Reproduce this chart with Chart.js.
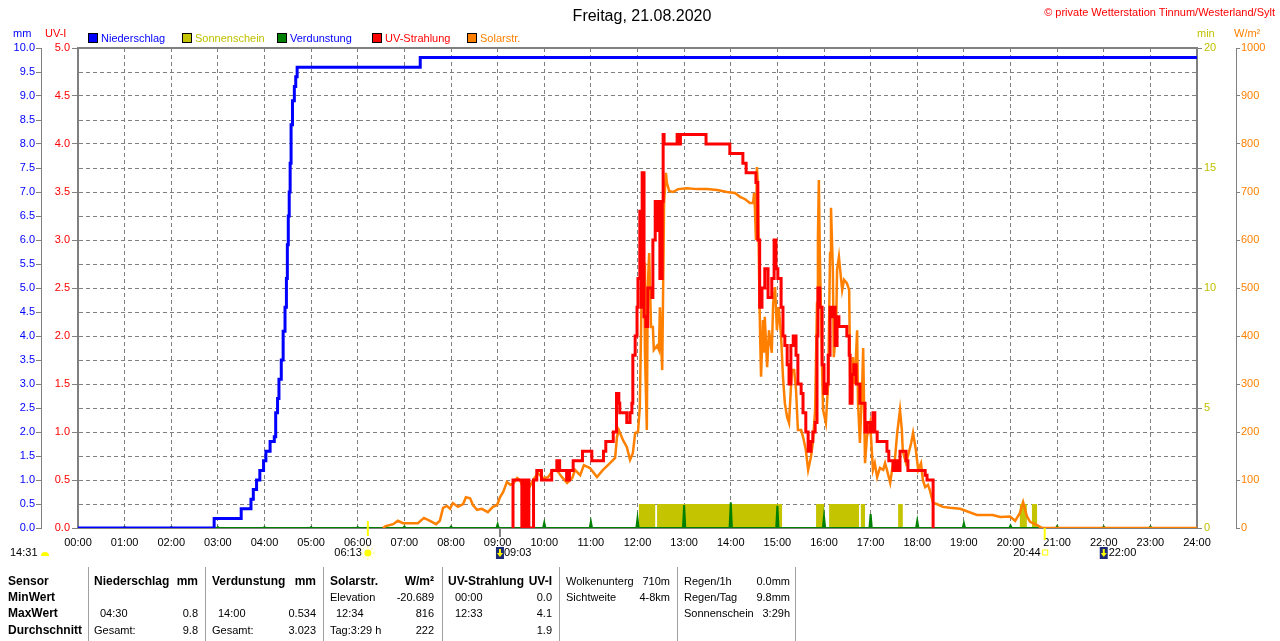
<!DOCTYPE html>
<html lang="de">
<head>
<meta charset="utf-8">
<title>Freitag, 21.08.2020</title>
<script src="https://cdn.jsdelivr.net/npm/chart.js@4.4.1/dist/chart.umd.min.js"></script>
<style>
  html, body { margin: 0; padding: 0; background: #fff; }
  #wrap { position: relative; width: 1280px; height: 641px; overflow: hidden;
          font-family: "Liberation Sans", Arial, sans-serif; font-size: 11px; color: #000; }
  #chart { position: absolute; left: 0; top: 0; }
  .t { position: absolute; white-space: nowrap; line-height: 14px; }
  .sep { position: absolute; top: 567px; width: 1px; height: 74px; background: #a0a0a0; }
  .sq { position: absolute; width: 8px; height: 8px; border: 1px solid #000; }
</style>
</head>
<body>
<div id="wrap"><canvas id="chart" width="1280" height="641"></canvas></div>
<script>
// time axis (hours) and tick labels
var hourLabels = ['00:00','01:00','02:00','03:00','04:00','05:00','06:00','07:00','08:00',
  '09:00','10:00','11:00','12:00','13:00','14:00','15:00','16:00','17:00','18:00',
  '19:00','20:00','21:00','22:00','23:00','24:00'];

// Niederschlag, cumulative mm (step changes)
var rainT  = [0, 2.92, 3.50, 3.71, 3.76, 3.83, 3.90, 3.98, 4.03, 4.12, 4.21, 4.24, 4.28, 4.31, 4.36,
              4.40, 4.44, 4.47, 4.49, 4.51, 4.53, 4.55, 4.57, 4.60, 4.64, 4.67, 4.70, 7.34, 24];
var rainMm = [0, 0.2, 0.4, 0.6, 0.8, 1.0, 1.2, 1.4, 1.6, 1.8, 1.9, 2.4, 2.7, 3.1, 3.5,
              4.1, 4.6, 5.2, 5.9, 6.5, 7.0, 7.6, 8.4, 8.9, 9.2, 9.4, 9.6, 9.8, 9.8];

// Sonnenschein, min
var sunT   = [0, 12.03, 12.38, 12.42, 15.10, 15.83, 16.00, 16.11, 16.75, 16.79, 16.88, 17.59, 17.69,
              20.20, 20.35, 20.46, 20.57, 24];
var sunMin = [0, 1, 0, 1, 0, 1, 0, 1, 0, 1, 0, 1, 0, 1, 0, 1, 0, 0];

// Verdunstung, mm per hour
var evapH  = [0,1,2,3,4,5,6,7,8,9,10,11,12,13,14,15,16,17,18,19,20,21,22,23,24];
var evapMm = [0,0.02,0.02,0.02,0.02,0.02,0.02,0.03,0.03,0.08,0.11,0.13,0.2,0.48,0.534,
              0.46,0.24,0.29,0.15,0.1,0.05,0.04,0.03,0.03,0];

// UV-Strahlung, UV-I
var uvT = [9.33,9.33,9.52,9.54,9.59,9.63,9.67,9.77,9.84,9.94,
  10.16,10.27,10.33,10.48,10.54,10.62,10.82,11.02,11.27,11.32,
  11.48,11.55,11.60,11.62,11.77,11.84,11.88,11.90,11.95,11.99,
  12.01,12.05,12.08,12.10,12.14,12.18,12.22,12.31,12.33,12.38,
  12.42,12.44,12.48,12.53,12.55,12.57,12.85,12.88,12.92,13.47,
  13.98,14.26,14.33,14.54,14.58,14.62,14.67,14.73,14.80,14.88,
  14.93,14.97,15.01,15.08,15.12,15.16,15.21,15.25,15.29,15.34,
  15.40,15.44,15.51,15.55,15.61,15.66,15.72,15.76,15.81,15.85,
  15.87,15.91,15.96,16.00,16.06,16.09,16.13,16.17,16.19,16.24,
  16.28,16.32,16.49,16.54,16.56,16.60,16.64,16.69,16.77,16.88,
  16.92,16.99,17.05,17.09,17.14,17.35,17.39,17.48,17.54,17.59,
  17.63,17.76,17.80,18.17,18.21,18.34];
var uvI = [0,0.5,0,0.5,0,0.5,0,0.5,0.6,0.5,
  0.6,0.7,0.6,0.5,0.6,0.7,0.8,0.7,0.8,0.9,
  1.0,1.4,1.3,1.2,1.1,1.2,1.3,1.8,2.0,2.3,
  2.6,3.3,2.3,3.7,2.2,2.1,2.5,2.4,3.0,3.4,
  3.1,3.4,2.6,3.4,4.1,4.0,4.1,4.0,4.1,4.0,
  3.9,3.8,3.7,3.6,3.0,2.3,2.5,2.7,2.4,2.6,
  3.0,2.7,2.6,2.3,2.0,1.9,1.7,1.5,1.9,2.0,
  1.8,1.5,1.4,1.2,1.0,0.8,0.9,1.0,1.1,2.0,
  2.5,2.3,1.7,1.4,1.5,1.8,2.3,2.2,2.3,1.9,
  2.2,2.1,2.0,1.8,1.3,1.6,1.7,1.5,1.3,1.0,
  1.1,1.0,1.2,1.0,0.9,0.8,0.7,0.6,0.7,0.6,
  0.8,0.7,0.6,0.55,0.5,0];

// Solarstrahlung, W/m²
var solarT = [6.54,6.60,6.76,6.86,6.97,7.12,7.29,7.42,7.55,7.68,7.76,7.83,7.91,7.98,8.04,
  8.15,8.26,8.32,8.41,8.47,8.56,8.66,8.79,8.90,8.99,9.05,9.12,9.20,9.27,9.33,
  9.42,9.48,9.54,9.65,9.76,9.87,9.97,10.08,10.19,10.29,10.38,10.49,10.60,10.66,10.77,
  10.85,10.98,11.13,11.26,11.41,11.52,11.56,11.60,11.69,11.77,11.84,11.90,11.95,12.01,
  12.05,12.10,12.12,12.14,12.16,12.20,12.22,12.25,12.29,12.33,
  12.35,12.42,12.46,12.48,12.53,12.55,12.57,12.61,12.63,12.68,
  12.76,12.87,13.06,13.28,13.49,13.71,13.92,14.09,14.20,14.31,
  14.41,14.48,14.50,14.52,14.54,14.56,14.58,14.61,14.63,14.65,
  14.69,14.71,14.73,14.78,14.82,14.88,14.91,14.95,14.99,15.03,
  15.08,15.12,15.16,15.21,15.25,15.31,15.36,15.40,15.44,
  15.51,15.55,15.61,15.66,15.72,15.76,15.81,15.85,15.87,15.89,
  15.91,15.96,15.98,16.04,16.09,16.13,16.15,16.19,16.21,16.26,
  16.28,16.32,16.34,16.39,16.43,16.49,16.54,16.56,16.60,16.62,
  16.66,16.71,16.73,16.77,16.82,16.84,16.88,16.92,16.99,17.05,
  17.09,17.14,17.20,17.27,17.31,17.35,17.42,17.48,17.52,17.57,
  17.63,17.67,17.69,17.76,17.80,17.87,17.91,17.97,18.02,18.08,
  18.12,18.17,18.23,18.27,18.34,
  18.42,18.55,18.70,18.92,19.28,19.62,19.78,19.99,20.10,20.20,
  20.27,20.35,20.42,20.57,20.68,24];
var solarW = [0,4,8,15,10,10,10,21,15,8,15,42,46,40,52,
  44,50,64,62,48,38,40,33,44,48,64,75,96,90,92,
  104,100,85,79,100,114,104,106,121,118,106,94,104,121,110,
  131,125,106,121,135,146,190,204,183,169,142,156,198,200,
  252,558,460,552,365,204,502,573,419,419,
  371,380,371,460,329,502,677,740,719,702,
  700,706,708,706,706,704,700,698,690,685,
  677,677,698,662,600,752,720,517,398,315,
  433,365,440,335,412,365,469,502,412,460,
  398,315,260,231,219,329,329,288,204,
  204,190,163,121,148,177,246,469,606,725,
  573,329,246,219,302,573,667,538,356,412,
  538,565,544,496,517,510,496,315,260,356,
  300,412,260,177,300,375,135,190,219,121,
  135,106,125,121,135,121,94,135,142,198,
  246,204,160,135,150,177,198,163,121,135,
  100,85,90,79,52,
  50,44,42,40,27,27,23,24,15,31,
  54,25,13,6,0,0];

// sun / moon times
var sunRise = 6 + 13 / 60, sunSet = 20 + 44 / 60, moonRise = 9 + 3 / 60, moonSet = 22;

function pts(t, v) {
  var out = [];
  for (var i = 0; i < Math.min(t.length, v.length); i++) out.push({x: t[i], y: v[i]});
  return out;
}
var evapPts = [];
for (var i = 0; i < evapH.length; i++) {
  evapPts.push({x: evapH[i] - 0.025, y: 0});
  evapPts.push({x: evapH[i], y: evapMm[i]});
  evapPts.push({x: evapH[i] + 0.025, y: 0});
}

var GRID = '#808080';
var F = '"Liberation Sans", Arial, sans-serif';

function fixW(w) { return function (s) { s.width = w; }; }

var framePlugin = {
  id: 'frame',
  beforeDatasetsDraw: function (chart) {
    var ctx = chart.ctx, a = chart.chartArea;
    ctx.save();
    ctx.strokeStyle = GRID;
    ctx.lineWidth = 2;
    ctx.strokeRect(a.left, a.top, a.right - a.left, a.bottom - a.top);
    ctx.restore();
  },
  afterDraw: function (chart) {
    var ctx = chart.ctx, x = chart.scales.x, b = chart.chartArea.bottom;
    var xr = x.getPixelForValue(sunRise), xs = x.getPixelForValue(sunSet);
    var xm = x.getPixelForValue(moonRise), xm2 = x.getPixelForValue(moonSet);
    ctx.save();
    ctx.lineWidth = 2;
    ctx.strokeStyle = '#ffff00';
    ctx.beginPath(); ctx.moveTo(xr, b - 7); ctx.lineTo(xr, b + 8); ctx.stroke();
    ctx.beginPath(); ctx.moveTo(xs, b); ctx.lineTo(xs, b + 12); ctx.stroke();
    ctx.strokeStyle = GRID;
    ctx.beginPath(); ctx.moveTo(xm, b); ctx.lineTo(xm, b + 9); ctx.stroke();

    ctx.font = '11px ' + F;
    ctx.fillStyle = '#000';
    ctx.textBaseline = 'middle';
    var y = 553;
    ctx.textAlign = 'left';
    ctx.fillText('14:31', 10, y);
    ctx.fillText('09:03', xm + 4, y);
    ctx.fillText('22:00', xm2 + 5, y);
    ctx.textAlign = 'right';
    ctx.fillText('06:13', xr - 6, y);
    ctx.fillText('20:44', xs - 4, y);

    // moon phase
    ctx.fillStyle = '#ffff00';
    ctx.beginPath(); ctx.arc(45, 556, 4, Math.PI, 2 * Math.PI); ctx.fill();
    // sun icon
    ctx.beginPath(); ctx.arc(xr, y, 3.5, 0, 2 * Math.PI); ctx.fill();
    ctx.strokeStyle = '#ffff80'; ctx.lineWidth = 1;
    for (var k = 0; k < 8; k++) {
      var an = k * Math.PI / 4;
      ctx.beginPath();
      ctx.moveTo(xr + Math.cos(an) * 5, y + Math.sin(an) * 5);
      ctx.lineTo(xr + Math.cos(an) * 7, y + Math.sin(an) * 7);
      ctx.stroke();
    }
    // sunset marker
    ctx.strokeStyle = '#ffff00';
    ctx.strokeRect(xs - 2, y - 3, 5, 5);
    // moon icons
    [xm, xm2].forEach(function (mx) {
      ctx.fillStyle = '#1c2a78';
      ctx.fillRect(mx - 4, 547, 8, 12);
      ctx.fillStyle = '#ffff00';
      ctx.fillRect(mx - 1, 549, 2, 5);
      ctx.beginPath(); ctx.moveTo(mx - 3, 553); ctx.lineTo(mx + 3, 553); ctx.lineTo(mx, 557); ctx.fill();
    });
    ctx.restore();
  }
};

new Chart(document.getElementById('chart'), {
  type: 'line',
  data: {
    datasets: [
      { label: 'Niederschlag', data: pts(rainT, rainMm), yAxisID: 'yMM',
        borderColor: '#0000ff', borderWidth: 3, stepped: true, pointRadius: 0, fill: false, order: 0 },
      { label: 'UV-Strahlung', data: pts(uvT, uvI), yAxisID: 'yUV',
        borderColor: '#ff0000', borderWidth: 3, stepped: true, pointRadius: 0, fill: false, order: 1 },
      { label: 'Solarstr.', data: pts(solarT, solarW), yAxisID: 'yW',
        borderColor: '#ff8000', borderWidth: 2.5, pointRadius: 0, fill: false, order: 2 },
      { label: 'Verdunstung', data: evapPts, yAxisID: 'yMM',
        borderColor: '#008000', backgroundColor: '#008000', borderWidth: 2, pointRadius: 0,
        fill: 'origin', order: 3 },
      { label: 'Sonnenschein', data: pts(sunT, sunMin), yAxisID: 'yMin',
        borderColor: 'rgba(0,0,0,0)', backgroundColor: '#c4c400', borderWidth: 0, stepped: true,
        pointRadius: 0, fill: 'origin', order: 4 }
    ]
  },
  options: {
    responsive: false,
    animation: false,
    devicePixelRatio: 1,
    layout: { padding: { top: 48, bottom: 83, left: 0, right: 0 } },
    plugins: { legend: { display: false }, tooltip: { enabled: false } },
    elements: { line: { tension: 0 } },
    scales: {
      x: {
        type: 'linear', min: 0, max: 24,
        afterFit: function (s) { s.height = 30; },
        ticks: { stepSize: 1, autoSkip: false, maxRotation: 0, padding: 8, color: '#000',
                 font: { family: F, size: 11 },
                 callback: function (v) { return hourLabels[v] || ''; } },
        grid: { drawTicks: false, lineWidth: 1,
                color: function (c) { return (c.tick && (c.tick.value === 0 || c.tick.value === 24)) ? 'rgba(0,0,0,0)' : GRID; } },
        border: { display: false, dash: [4, 3] }
      },
      yMM: {
        position: 'left', weight: 2, min: 0, max: 10,
        afterFit: fixW(41),
        ticks: { stepSize: 0.5, autoSkip: false, padding: 1, color: '#0000ff',
                 font: { family: F, size: 11 },
                 callback: function (v) { return v.toFixed(1); } },
        grid: { drawOnChartArea: true, tickLength: 5, tickColor: GRID, tickWidth: 1, lineWidth: 1,
                color: function (c) { return (c.tick && (c.tick.value === 0 || c.tick.value === 10)) ? 'rgba(0,0,0,0)' : GRID; } },
        border: { display: true, color: GRID, width: 1, dash: [4, 3] }
      },
      yUV: {
        position: 'left', weight: 1, min: 0, max: 5,
        afterFit: fixW(37),
        ticks: { stepSize: 0.5, autoSkip: false, padding: 2, color: '#ff0000',
                 font: { family: F, size: 11 },
                 callback: function (v) { return v.toFixed(1); } },
        grid: { drawOnChartArea: false, tickLength: 6, tickColor: GRID, tickWidth: 1 },
        border: { display: false }
      },
      yMin: {
        position: 'right', weight: 1, min: 0, max: 20,
        afterFit: fixW(39),
        ticks: { stepSize: 5, autoSkip: false, padding: 2, color: '#c0c000',
                 font: { family: F, size: 11 },
                 callback: function (v) { return String(v); } },
        grid: { drawOnChartArea: false, tickLength: 5, tickColor: GRID, tickWidth: 1 },
        border: { display: false }
      },
      yW: {
        position: 'right', weight: 2, min: 0, max: 1000,
        afterFit: fixW(44),
        ticks: { stepSize: 100, autoSkip: false, padding: 1, color: '#ff8000',
                 font: { family: F, size: 11 },
                 callback: function (v) { return String(v); } },
        grid: { drawOnChartArea: false, tickLength: 4, tickColor: GRID, tickWidth: 1 },
        border: { display: true, color: GRID, width: 1 }
      }
    }
  },
  plugins: [framePlugin]
});

// ---- texts around the chart ----
var wrap = document.getElementById('wrap');
function put(s, x, y, o) {
  o = o || {};
  var d = document.createElement('div');
  d.className = 't';
  d.textContent = s;
  d.style.top = (y - 7) + 'px';
  if (o.align === 'right') d.style.right = (1280 - x) + 'px';
  else if (o.align === 'center') { d.style.left = x + 'px'; d.style.transform = 'translateX(-50%)'; }
  else d.style.left = x + 'px';
  if (o.color) d.style.color = o.color;
  if (o.bold) { d.style.fontWeight = 'bold'; d.style.fontSize = '12px'; }
  if (o.size) d.style.fontSize = o.size + 'px';
  wrap.appendChild(d);
}

put('Freitag, 21.08.2020', 642, 16, {align: 'center', size: 16});
put('\u00a9 private Wetterstation Tinnum/Westerland/Sylt', 1275, 12, {align: 'right', color: '#ff0000'});
put('mm', 13, 33, {color: '#0000ff'});
put('UV-I', 45, 33, {color: '#ff0000'});
put('min', 1197, 33, {color: '#c0c000'});
put('W/m\u00b2', 1234, 33, {color: '#ff8000'});

var legendItems = [
  ['Niederschlag', '#0000ff', '#0000ff', 88],
  ['Sonnenschein', '#c4c400', '#c0c000', 182],
  ['Verdunstung', '#008000', '#0000ff', 277],
  ['UV-Strahlung', '#ff0000', '#ff0000', 372],
  ['Solarstr.', '#ff8000', '#ff8000', 467]
];
legendItems.forEach(function (it) {
  var s = document.createElement('div');
  s.className = 'sq';
  s.style.left = it[3] + 'px';
  s.style.top = '33px';
  s.style.background = it[1];
  wrap.appendChild(s);
  put(it[0], it[3] + 13, 38, {color: it[2]});
});

// statistics table
[88, 205, 323, 442, 559, 677, 795].forEach(function (x) {
  var l = document.createElement('div');
  l.className = 'sep';
  l.style.left = x + 'px';
  wrap.appendChild(l);
});
var rowY = [581, 597, 613, 630];
['Sensor', 'MinWert', 'MaxWert', 'Durchschnitt'].forEach(function (s, i) { put(s, 8, rowY[i], {bold: true}); });

put('Niederschlag', 94, rowY[0], {bold: true}); put('mm', 198, rowY[0], {align: 'right', bold: true});
put('04:30', 100, rowY[2]); put('0.8', 198, rowY[2], {align: 'right'});
put('Gesamt:', 94, rowY[3]); put('9.8', 198, rowY[3], {align: 'right'});

put('Verdunstung', 212, rowY[0], {bold: true}); put('mm', 316, rowY[0], {align: 'right', bold: true});
put('14:00', 218, rowY[2]); put('0.534', 316, rowY[2], {align: 'right'});
put('Gesamt:', 212, rowY[3]); put('3.023', 316, rowY[3], {align: 'right'});

put('Solarstr.', 330, rowY[0], {bold: true}); put('W/m\u00b2', 434, rowY[0], {align: 'right', bold: true});
put('Elevation', 330, rowY[1]); put('-20.689', 434, rowY[1], {align: 'right'});
put('12:34', 336, rowY[2]); put('816', 434, rowY[2], {align: 'right'});
put('Tag:3:29 h', 330, rowY[3]); put('222', 434, rowY[3], {align: 'right'});

put('UV-Strahlung', 448, rowY[0], {bold: true}); put('UV-I', 552, rowY[0], {align: 'right', bold: true});
put('00:00', 455, rowY[1]); put('0.0', 552, rowY[1], {align: 'right'});
put('12:33', 455, rowY[2]); put('4.1', 552, rowY[2], {align: 'right'});
put('1.9', 552, rowY[3], {align: 'right'});

put('Wolkenunterg', 566, rowY[0]); put('710m', 670, rowY[0], {align: 'right'});
put('Sichtweite', 566, rowY[1]); put('4-8km', 670, rowY[1], {align: 'right'});

put('Regen/1h', 684, rowY[0]); put('0.0mm', 790, rowY[0], {align: 'right'});
put('Regen/Tag', 684, rowY[1]); put('9.8mm', 790, rowY[1], {align: 'right'});
put('Sonnenschein', 684, rowY[2]); put('3:29h', 790, rowY[2], {align: 'right'});
</script>
</body>
</html>
